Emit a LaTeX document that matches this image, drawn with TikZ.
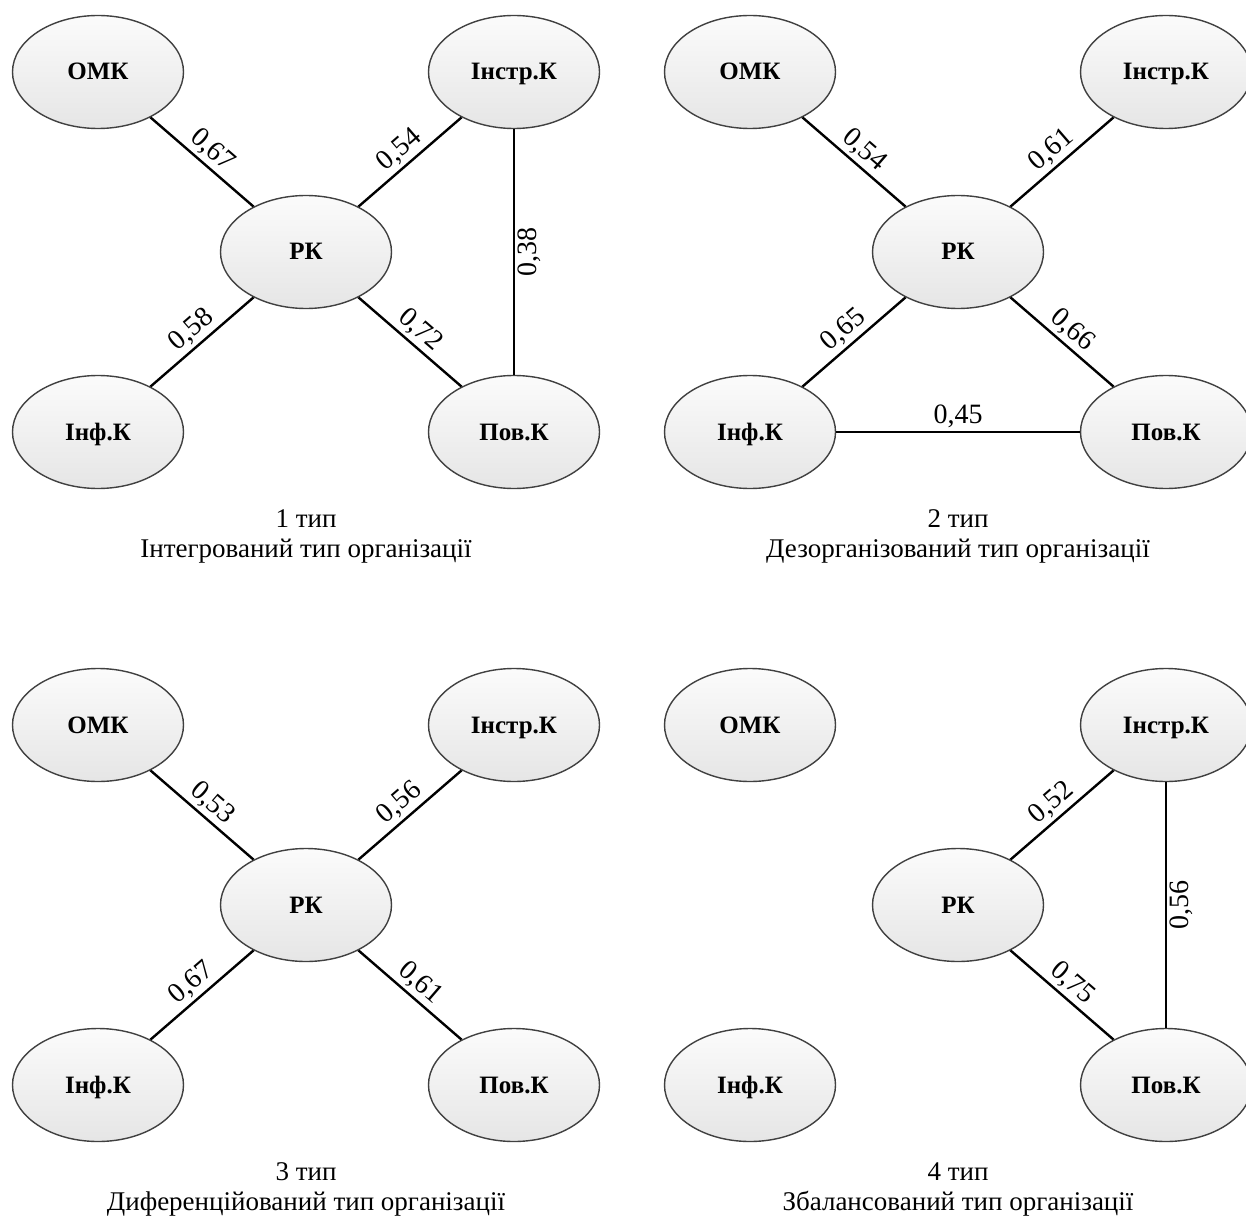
\documentclass[tikz,border=0pt]{standalone}
\usepackage{fontspec}
\setmainfont{Liberation Serif}
\usetikzlibrary{shapes.geometric}
\begin{document}
\begin{tikzpicture}[x=1pt,y=-1pt,
  comp/.style={ellipse, draw=black!75, line width=1.4pt, top color=gray!3, bottom color=gray!20,
    minimum width=171pt, minimum height=113pt, inner sep=0pt,
    text height=17pt, text depth=1pt,
    font=\fontsize{25}{30}\selectfont\bfseries},
  link/.style={line width=2.4pt, draw=black},
  val/.style={sloped, font=\fontsize{28}{32}\selectfont, inner sep=3pt},
  captext/.style={font=\fontsize{27}{30}\selectfont, align=center}]
\path[use as bounding box, clip] (0,0) rectangle (1246,1222);

% ---------- Panel 1 ----------
\node[comp] (a1) at (98,72) {ОМК};
\node[comp] (a2) at (514,72) {Інстр.К};
\node[comp] (a3) at (306,252) {РК};
\node[comp] (a4) at (98,432) {Інф.К};
\node[comp] (a5) at (514,432) {Пов.К};
\draw[link] (a1) -- node[val, above]{0,67} (a3);
\draw[link] (a3) -- node[val, above]{0,54} (a2);
\draw[link] (a4) -- node[val, above]{0,58} (a3);
\draw[link] (a3) -- node[val, above]{0,72} (a5);
\draw[link] (a5) -- node[val, below]{0,38} (a2);
\node[captext] (acap) at (306,536) {1 тип\\Інтегрований тип організації};

% ---------- Panel 2 ----------
\node[comp] (b1) at (750,72) {ОМК};
\node[comp] (b2) at (1166,72) {Інстр.К};
\node[comp] (b3) at (958,252) {РК};
\node[comp] (b4) at (750,432) {Інф.К};
\node[comp] (b5) at (1166,432) {Пов.К};
\draw[link] (b1) -- node[val, above]{0,54} (b3);
\draw[link] (b3) -- node[val, above]{0,61} (b2);
\draw[link] (b4) -- node[val, above]{0,65} (b3);
\draw[link] (b3) -- node[val, above]{0,66} (b5);
\draw[link] (b4) -- node[val, above]{0,45} (b5);
\node[captext] (bcap) at (958,536) {2 тип\\Дезорганізований тип організації};

% ---------- Panel 3 ----------
\node[comp] (c1) at (98,725) {ОМК};
\node[comp] (c2) at (514,725) {Інстр.К};
\node[comp] (c3) at (306,905) {РК};
\node[comp] (c4) at (98,1085) {Інф.К};
\node[comp] (c5) at (514,1085) {Пов.К};
\draw[link] (c1) -- node[val, above]{0,53} (c3);
\draw[link] (c3) -- node[val, above]{0,56} (c2);
\draw[link] (c4) -- node[val, above]{0,67} (c3);
\draw[link] (c3) -- node[val, above]{0,61} (c5);
\node[captext] (ccap) at (306,1189) {3 тип\\Диференційований тип організації};

% ---------- Panel 4 ----------
\node[comp] (d1) at (750,725) {ОМК};
\node[comp] (d2) at (1166,725) {Інстр.К};
\node[comp] (d3) at (958,905) {РК};
\node[comp] (d4) at (750,1085) {Інф.К};
\node[comp] (d5) at (1166,1085) {Пов.К};
\draw[link] (d3) -- node[val, above]{0,52} (d2);
\draw[link] (d3) -- node[val, above]{0,75} (d5);
\draw[link] (d5) -- node[val, below]{0,56} (d2);
\node[captext] (dcap) at (958,1189) {4 тип\\Збалансований тип організації};
\end{tikzpicture}
\end{document}
